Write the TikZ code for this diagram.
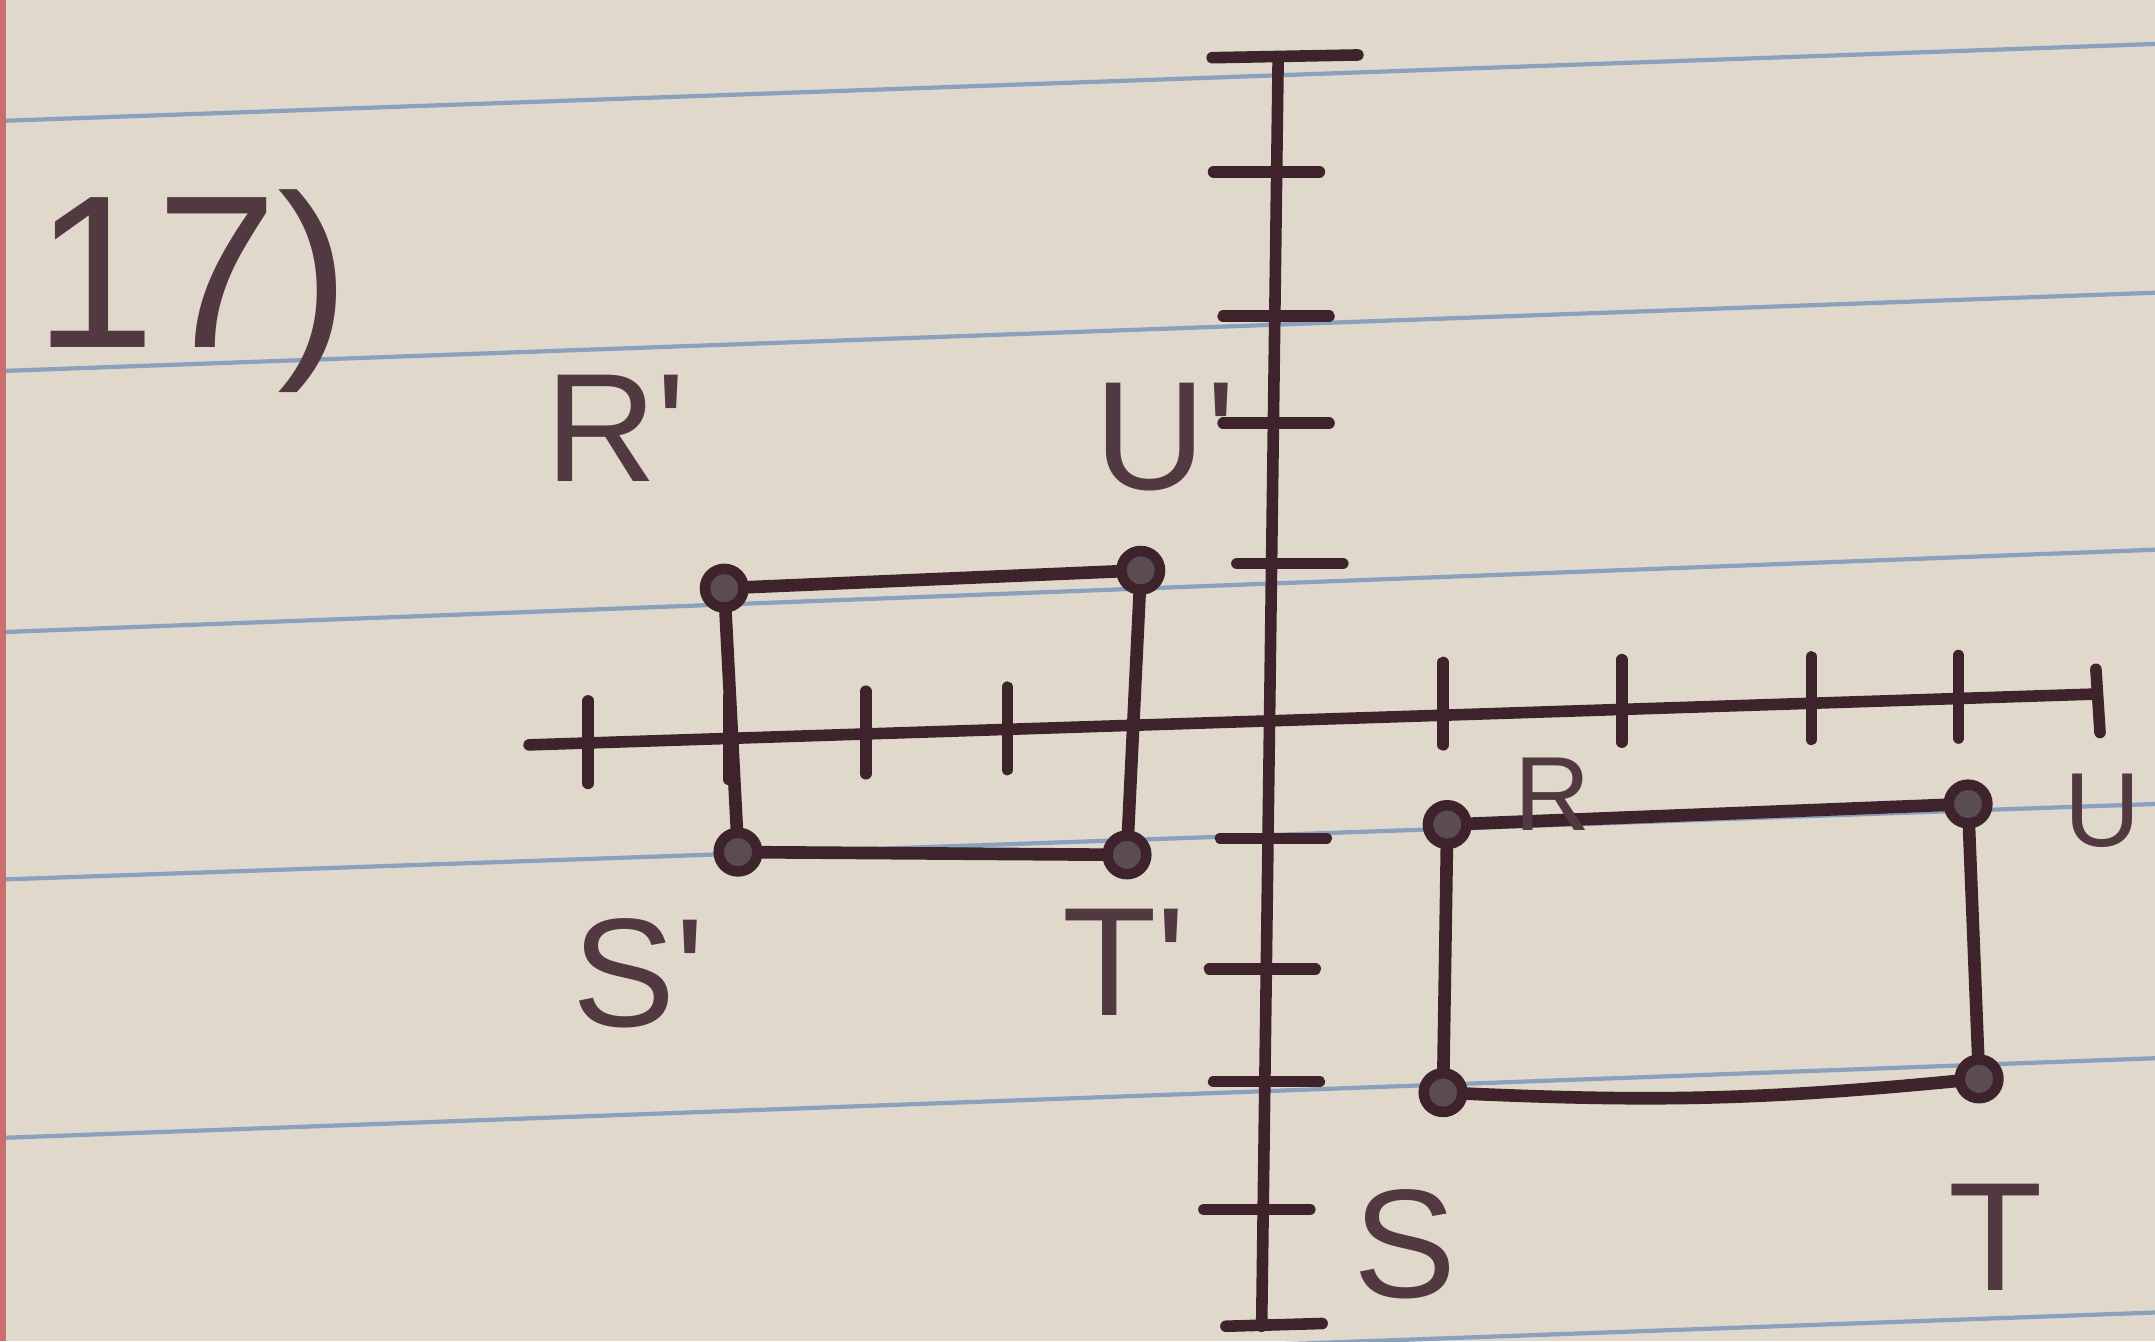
\documentclass[tikz,border=0pt]{standalone}
\usepackage{fontspec}
\setmainfont{Liberation Sans}
\usetikzlibrary{positioning}

\definecolor{paper}{RGB}{224,217,203}
\definecolor{rule}{RGB}{138,160,188}
\definecolor{ink}{RGB}{62,34,44}
\definecolor{margin}{RGB}{205,110,110}

\newcommand{\prm}{\textquotesingle}

\tikzset{
  axis/.style={ink, line width=3.3pt, line cap=round},
  tick/.style={ink, line width=3.3pt, line cap=round},
  edge/.style={ink, line width=3.6pt, line cap=round},
  vertex/.style={circle, draw=ink, fill=ink!55!gray, line width=3pt, inner sep=0pt, minimum size=11pt},
  lbl/.style={text=ink!90, font=\fontsize{44}{48}\selectfont},
  small lbl/.style={text=ink!90, font=\fontsize{30}{34}\selectfont},
}

\begin{document}
\begin{tikzpicture}[x=0.013744cm, y=-0.013744cm]
  % paper
  \fill[paper] (0,0) rectangle (1568,976);
  \useasboundingbox (0,0) rectangle (1568,976);
  \foreach \a/\b in {88/32, 270/213, 460/400, 640/585, 828/770, 1012/955}
    \draw[rule, line width=1.2pt] (0,\a) -- (1568,\b);
  \draw[margin, line width=2pt] (2,0) -- (2,976);

  % axes
  \coordinate (xl) at (385,542);
  \coordinate (xr) at (1525,505);
  \coordinate (yt) at (930,42);
  \coordinate (yb) at (918,965);
  \draw[axis] (xl) -- (xr);
  \draw[axis] (yt) -- (yb);
  \draw[tick] (882,42) -- (988,40);
  \draw[tick] (892,965) -- (962,963);
  \draw[tick] (1525,487) -- (1528,533);
  \foreach \x/\y in {428/540, 530/537, 630/533, 733/530, 1050/512, 1180/510, 1318/508, 1425/507}
    \draw[tick] (\x,\y-30) -- (\x,\y+30);
  \foreach \y/\x in {125/925, 230/932, 308/932, 410/942, 610/930, 705/922, 787/925, 880/918}
    \draw[tick] (\x-42,\y) -- (\x+35,\y);

  % image R'U'T'S'
  \node[vertex] (Rp) at (527,428) {};
  \node[vertex] (Up) at (830,415) {};
  \node[vertex] (Sp) at (537,620) {};
  \node[vertex] (Tp) at (820,622) {};
  \draw[edge] (Rp) -- (Up) -- (Tp) -- (Sp) -- (Rp);

  % figure RUTS
  \node[vertex] (R) at (1053,600) {};
  \node[vertex] (U) at (1432,585) {};
  \node[vertex] (S) at (1050,795) {};
  \node[vertex] (T) at (1440,785) {};
  \draw[edge] (R) -- (U) -- (T);
  \draw[edge] (T) to[bend left=4] (S);
  \draw[edge] (S) -- (R);

  % labels
  \node[text=ink!90, font=\fontsize{62}{66}\selectfont] (num) at (140,212) {17)};
  \node[lbl] (Rpl) at (448,312) {R\prm};
  \node[lbl] (Upl) at (848,318) {U\prm};
  \node[lbl] (Spl) at (465,708) {S\prm};
  \node[lbl] (Tpl) at (818,700) {T\prm};
  \node[small lbl] (Rl) at (1130,578) {R};
  \node[small lbl] (Ul) at (1530,590) {U};
  \node[lbl] (Sl) at (1022,905) {S};
  \node[lbl] (Tl) at (1452,900) {T};
\end{tikzpicture}
\end{document}
